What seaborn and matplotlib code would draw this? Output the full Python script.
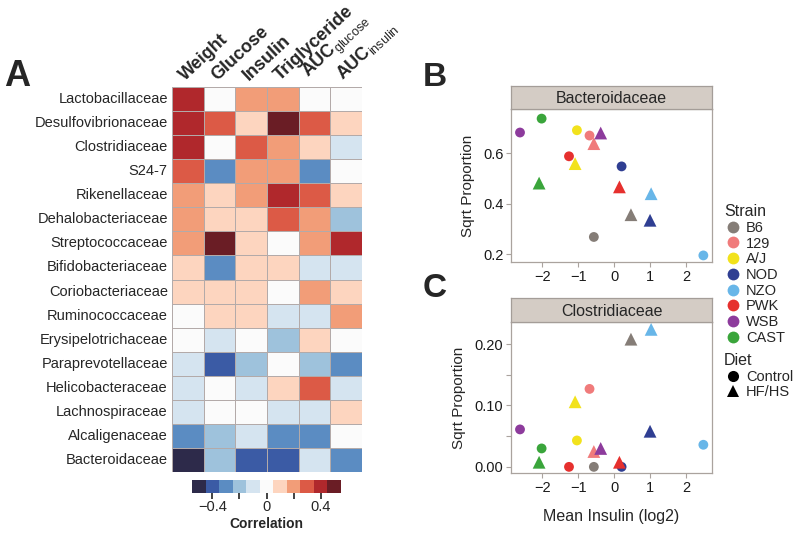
import numpy as np
import pandas as pd
import matplotlib
matplotlib.use("Agg")
import matplotlib.pyplot as plt
import seaborn as sns
from matplotlib.colors import ListedColormap
from matplotlib.lines import Line2D
from matplotlib.transforms import ScaledTranslation

# ---------------- data ----------------
families = ["Lactobacillaceae", "Desulfovibrionaceae", "Clostridiaceae", "S24-7",
            "Rikenellaceae", "Dehalobacteriaceae", "Streptococcaceae", "Bifidobacteriaceae",
            "Coriobacteriaceae", "Ruminococcaceae", "Erysipelotrichaceae", "Paraprevotellaceae",
            "Helicobacteraceae", "Lachnospiraceae", "Alcaligenaceae", "Bacteroidaceae"]
traits = ["Weight", "Glucose", "Insulin", "Triglyceride", "AUC_glucose", "AUC_insulin"]
trait_labels = ["Weight", "Glucose", "Insulin", "Triglyceride",
                r"$\mathbf{AUC}_{\mathrm{glucose}}$", r"$\mathbf{AUC}_{\mathrm{insulin}}$"]
corr_weight = [0.4, 0.4, 0.4, 0.3, 0.2, 0.2, 0.2, 0.1, 0.1, 0.0, 0.0, -0.1, -0.1, -0.1, -0.3, -0.5]
corr_glucose = [0.0, 0.3, 0.0, -0.3, 0.1, 0.1, 0.5, -0.3, 0.1, 0.1, -0.1, -0.4, 0.0, 0.0, -0.2, -0.2]
corr_insulin = [0.2, 0.1, 0.3, 0.2, 0.2, 0.1, 0.1, 0.1, 0.1, 0.1, 0.0, -0.2, -0.1, 0.0, -0.1, -0.4]
corr_trig = [0.2, 0.5, 0.2, 0.2, 0.4, 0.3, 0.0, 0.1, 0.0, -0.1, -0.2, 0.0, 0.1, -0.1, -0.3, -0.4]
corr_aucg = [0.0, 0.3, 0.1, -0.3, 0.3, 0.2, 0.2, -0.1, 0.2, -0.1, 0.1, -0.2, 0.3, -0.1, -0.3, -0.1]
corr_auci = [0.0, 0.1, -0.1, 0.0, 0.1, -0.2, 0.4, -0.1, 0.1, 0.2, 0.0, -0.3, -0.1, 0.1, 0.0, -0.3]

cbar_ticks = [-0.4, -0.2, 0, 0.2, 0.4]
cbar_ticklabels = ["\u22120.4", "", "0", "", "0.4"]

strains = ["B6", "129", "A/J", "NOD", "NZO", "PWK", "WSB", "CAST"]
diets = ["Control", "HF/HS"]
insulin_control = [-0.57, -0.69, -1.04, 0.20, 2.47, -1.26, -2.62, -2.02]
insulin_hfhs = [0.46, -0.57, -1.09, 0.99, 1.02, 0.14, -0.38, -2.09]
bacteroidaceae_control = [0.269, 0.670, 0.691, 0.548, 0.196, 0.588, 0.682, 0.737]
bacteroidaceae_hfhs = [0.357, 0.638, 0.559, 0.335, 0.440, 0.467, 0.680, 0.482]
clostridiaceae_control = [0.0, 0.127, 0.043, 0.0, 0.036, 0.0, 0.061, 0.030]
clostridiaceae_hfhs = [0.208, 0.025, 0.106, 0.058, 0.224, 0.0075, 0.030, 0.0075]

strain_colors = ["#857d77", "#f07b7b", "#f2e21c", "#2f3e92", "#68b6e8",
                 "#e6302e", "#8d3b9c", "#3aa53b"]
heat_colors = ["#2d2a4a", "#3b5ba5", "#5b8cc2", "#9ec2dc", "#d5e4f0", "#fbfbfb",
               "#fdd5bf", "#f29d78", "#dc5a46", "#b0282c", "#6a1d25"]

# ---------------- style ----------------
sns.set_style("white")
plt.rcParams["font.family"] = ["Liberation Sans", "DejaVu Sans"]
plt.rcParams["mathtext.fontset"] = "custom"
plt.rcParams["mathtext.rm"] = "Liberation Sans"
plt.rcParams["mathtext.bf"] = "Liberation Sans:bold"
plt.rcParams["mathtext.it"] = "Liberation Sans:italic"

W, H = 800, 537
fig = plt.figure(figsize=(W / 100, H / 100), dpi=100)


def fr(x0, y0, x1, y1):
    return [x0 / W, 1 - y1 / H, (x1 - x0) / W, (y1 - y0) / H]


# ---------------- heatmap ----------------
ax_hm = fig.add_axes(fr(172, 87, 362, 472))
cax = fig.add_axes(fr(192, 480, 341, 493))
df_corr = pd.DataFrame({
    traits[0]: corr_weight, traits[1]: corr_glucose, traits[2]: corr_insulin,
    traits[3]: corr_trig, traits[4]: corr_aucg, traits[5]: corr_auci,
}, index=families)
cmap = ListedColormap(heat_colors)
sns.heatmap(df_corr, ax=ax_hm, cmap=cmap, vmin=-0.55, vmax=0.55,
            linewidths=0.6, linecolor="#b3aaa9", cbar_ax=cax,
            cbar_kws=dict(orientation="horizontal", ticks=cbar_ticks))
ax_hm.xaxis.tick_top()
ax_hm.set_xticklabels(trait_labels, rotation=43, ha="left", va="bottom",
                      rotation_mode="anchor", fontsize=13, fontweight="bold")
shift = ScaledTranslation(-8 / 72, 0, fig.dpi_scale_trans)
for lab in ax_hm.get_xticklabels():
    lab.set_transform(lab.get_transform() + shift)
ax_hm.set_yticklabels(families, rotation=0, fontsize=10.5)
ax_hm.tick_params(axis="both", length=0, pad=3)
ax_hm.tick_params(axis="x", pad=2)
ax_hm.set_xlabel("")
ax_hm.set_ylabel("")

cbar = ax_hm.collections[0].colorbar
cbar.outline.set_visible(False)
cax.set_xticks(cbar_ticks)
cax.set_xticklabels(cbar_ticklabels)
cax.tick_params(axis="x", length=4, width=1.2, color="#222222", labelsize=10.5, pad=1)
cax.set_xlabel("Correlation", fontsize=10, fontweight="bold", labelpad=2)

# ---------------- scatter panels ----------------
df_pts = pd.DataFrame({
    "Strain": strains * 2,
    "Diet": [diets[0]] * len(strains) + [diets[1]] * len(strains),
    "Insulin": insulin_control + insulin_hfhs,
    "Bacteroidaceae": bacteroidaceae_control + bacteroidaceae_hfhs,
    "Clostridiaceae": clostridiaceae_control + clostridiaceae_hfhs,
})
palette = dict(zip(strains, strain_colors))
spine_col = "#aaa39e"


def panel(plot_box, strip_box, fam, ylim, yticks, yticklabels, xlabel):
    ax = fig.add_axes(fr(*plot_box))
    for diet, mk, size in [("Control", "o", 50), ("HF/HS", "^", 85)]:
        sns.scatterplot(data=df_pts[df_pts["Diet"] == diet], x="Insulin", y=fam,
                        hue="Strain", hue_order=strains, palette=palette,
                        marker=mk, s=size, linewidth=0, legend=False, ax=ax)
    ax.set_xlim(-2.87, 2.71)
    ax.set_ylim(*ylim)
    ax.set_xticks([-2, -1, 0, 1, 2])
    ax.set_yticks(yticks)
    ax.set_yticklabels(yticklabels)
    ax.tick_params(axis="both", length=3.5, width=0.8, color=spine_col,
                   labelsize=10.5, labelcolor="#1a1a1a", pad=2, direction="out",
                   bottom=True, left=True)
    for sp in ax.spines.values():
        sp.set_color(spine_col)
        sp.set_linewidth(0.9)
    ax.set_ylabel("Sqrt Proportion", fontsize=11, labelpad=6)
    ax.set_xlabel(xlabel, fontsize=11.5, labelpad=10)
    sax = fig.add_axes(fr(*strip_box))
    sax.set_facecolor("#d4ccc5")
    sax.set_xticks([])
    sax.set_yticks([])
    for sp in sax.spines.values():
        sp.set_color("#a49d98")
        sp.set_linewidth(0.9)
    sax.text(0.5, 0.45, fam, ha="center", va="center", fontsize=11.5,
             transform=sax.transAxes)
    return ax


ax_b = panel((511, 109, 712, 262), (511, 86, 712, 109), "Bacteroidaceae",
             (0.17, 0.775), [0.2, 0.4, 0.6], ["0.2", "0.4", "0.6"], "")
ax_c = panel((511, 322, 712, 473), (511, 298, 712, 322), "Clostridiaceae",
             (-0.01, 0.236), [0.0, 0.05, 0.10, 0.15, 0.20],
             ["0.00", "", "0.10", "", "0.20"], "Mean Insulin (log2)")

# ---------------- legends ----------------
strain_handles = [Line2D([], [], marker="o", ls="", color=palette[s], markersize=8.5,
                         markeredgewidth=0) for s in strains]
leg1 = fig.legend(strain_handles, strains, title="Strain", loc="upper left",
                  bbox_to_anchor=(724 / W, 1 - 204 / H), frameon=False, fontsize=10.5,
                  title_fontsize=11.5, handletextpad=0.3, labelspacing=0.12,
                  borderpad=0, borderaxespad=0, handlelength=1.2, alignment="left")
diet_handles = [Line2D([], [], marker="o", ls="", color="black", markersize=8, markeredgewidth=0),
                Line2D([], [], marker="^", ls="", color="black", markersize=8.5, markeredgewidth=0)]
leg2 = fig.legend(diet_handles, diets, title="Diet", loc="upper left",
                  bbox_to_anchor=(724 / W, 1 - 353 / H), frameon=False, fontsize=10.5,
                  title_fontsize=11.5, handletextpad=0.3, labelspacing=0.12,
                  borderpad=0, borderaxespad=0, handlelength=1.2, alignment="left")

# ---------------- panel letters ----------------
fig.text(4 / W, 1 - 86 / H, "A", fontsize=26, fontweight="bold", va="baseline", ha="left")
fig.text(423 / W, 1 - 86 / H, "B", fontsize=24, fontweight="bold", va="baseline", ha="left")
fig.text(423 / W, 1 - 297 / H, "C", fontsize=24, fontweight="bold", va="baseline", ha="left")

fig.savefig("out.png", dpi=100)
